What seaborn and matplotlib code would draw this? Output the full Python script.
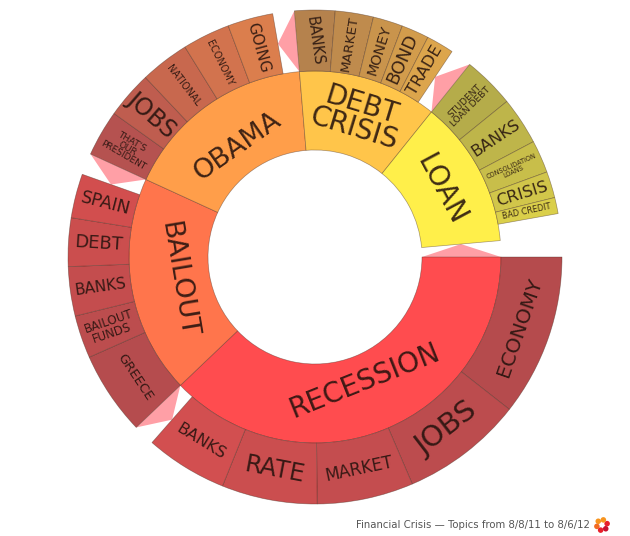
import numpy as np
import pandas as pd
import matplotlib
matplotlib.use('Agg')
import matplotlib.pyplot as plt
import seaborn as sns

groups = ['RECESSION', 'BAILOUT', 'OBAMA', 'DEBT\nCRISIS', 'LOAN']
group_colors = ['#FF4C4F', '#FF754C', '#FF9E4A', '#FFC54A', '#FFEF4A']

# topic shares in degrees of the circle
recession_topics = ['ECONOMY', 'JOBS', 'MARKET', 'RATE', 'BANKS']
recession_values = [38.1, 28.7, 22.7, 22.5, 19.3]
bailout_topics = ['GREECE', 'BAILOUT\nFUNDS', 'BANKS', 'DEBT', 'SPAIN']
bailout_values = [19.7, 10.1, 11.6, 11.4, 10.4]
obama_topics = ["THAT'S\nOUR\nPRESIDENT", 'JOBS', 'NATIONAL', 'ECONOMY', 'GOING']
obama_values = [10.9, 11.1, 11.6, 11.2, 10.7]
debt_topics = ['BANKS', 'MARKET', 'MONEY', 'BOND', 'TRADE']
debt_values = [9.5, 9.0, 7.0, 6.5, 6.5]
loan_topics = ['STUDENT\nLOAN DEBT', 'BANKS', 'CONSOLIDATION\nLOANS', 'CRISIS', 'BAD CREDIT']
loan_values = [12.2, 11.2, 7.7, 6.2, 3.8]

topics = [recession_topics, bailout_topics, obama_topics, debt_topics, loan_topics]
values = [recession_values, bailout_values, obama_values, debt_values, loan_values]

# styling
group_sizes = [20, 19.5, 19.5, 20, 20]
group_shift = [-13, -8, -11, 0, -3]
topic_sizes = [[14.5, 21, 12, 17.5, 11.5],
               [9.5, 8.5, 11, 13, 12.5],
               [6.5, 17, 7, 7, 11],
               [10.5, 9.7, 10.3, 12.8, 11.7],
               [6.6, 11.6, 4.7, 11.8, 5.9]]
topic_ramps = [('#B54B4D', '#D24F50'), ('#B54C4E', '#D24E4E'), ('#B55250', '#DB7E4D'),
               ('#B5824D', '#DCA54C'), ('#B5AC4A', '#DACF4A')]
logo_colors = ['#F7941E', '#F26A21', '#E8202A', '#C8102E', '#E8202A', '#F7941E']
pink = '#FF9FA6'
edge = (0.25, 0.15, 0.1, 0.45)
ink = (0.14, 0.07, 0.05, 0.88)
r0, r1, r2 = 107, 186, 247

sns.set_theme(style='white')
fig = plt.figure(figsize=(6.3, 5.36), dpi=100)
ax = fig.add_axes([65 / 630, 29 / 536, 500 / 630, 500 / 536], projection='polar')
ax.set_theta_zero_location('N')
ax.set_theta_direction(-1)
ax.set_rlim(0, 250)
ax.set_thetalim(0, 2 * np.pi)
ax.axis('off')

rows = []
for g, name in enumerate(groups):
    for t, v in zip(topics[g], values[g]):
        rows.append({'group': g, 'topic': t, 'value': v})
df = pd.DataFrame(rows)

gap = (360 - df['value'].sum()) / (len(groups) + 1)


def radial_rotation(deg):
    deg = deg % 360
    if 90 < deg < 240:
        return 180 - deg
    if deg < 90:
        return 90 - deg
    if deg > 355:
        return -82  # the top BANKS label leans a bit in the original
    return 270 - deg


def ring_rotation(deg):
    deg = deg % 360
    if 90 < deg < 270:
        return 180 - deg
    if deg < 90:
        return -deg
    return 360 - deg


start = 90.0
prev_end = None
for g, name in enumerate(groups):
    part = df[df['group'] == g]
    colors = sns.blend_palette(topic_ramps[g], len(part))
    span = part['value'].sum()

    # pink connector from the end of the previous sector
    if prev_end is not None:
        ax.fill(np.radians([start, start, prev_end]), [r1, r2, (r1 + r2) / 2], color=pink, lw=0, zorder=1)

    ax.bar(np.radians(start), r1 - r0, width=np.radians(span + gap), bottom=r0, align='edge',
           color=group_colors[g], edgecolor=edge, linewidth=0.5, zorder=2)
    mid = start + (span + gap) / 2
    ax.text(np.radians(mid), (r0 + r1) / 2 + group_shift[g], name, fontsize=group_sizes[g], color=ink,
            rotation=ring_rotation(mid), rotation_mode='anchor', ha='center', va='center',
            linespacing=0.85, zorder=4)

    a = start
    for i, (t, v) in enumerate(zip(part['topic'], part['value'])):
        ax.bar(np.radians(a), r2 - r1, width=np.radians(v), bottom=r1, align='edge',
               color=colors[i], edgecolor=edge, linewidth=0.5, zorder=3)
        m = a + v / 2
        ax.text(np.radians(m), (r1 + r2) / 2, t, fontsize=topic_sizes[g][i], color=ink,
                rotation=radial_rotation(m), rotation_mode='anchor', ha='center', va='center',
                linespacing=0.9, zorder=4)
        a += v
    prev_end = a
    start = start + span + gap

# closing connector on the inner ring, loan back round to recession
ax.fill(np.radians([90, 90, start]), [r0, r1, (r0 + r1) / 2], color=pink, lw=0, zorder=1)

fig.text(590 / 630, 1 - 525 / 536, 'Financial Crisis \u2014 Topics from 8/8/11 to 8/6/12', fontsize=7.3,
         color='#555555', ha='right', va='center')

# little ring logo next to the footer
logo = fig.add_axes([593 / 630, 1 - 534 / 536, 18 / 630, 18 / 536])
logo_angles = np.linspace(0, 2 * np.pi, len(logo_colors), endpoint=False) + np.pi * 0.75
logo_df = pd.DataFrame({'x': np.cos(logo_angles), 'y': np.sin(logo_angles), 'c': range(len(logo_colors))})
sns.scatterplot(data=logo_df, x='x', y='y', hue='c', palette=logo_colors, s=16, linewidth=0, legend=False, ax=logo)
logo.set_xlim(-1.7, 1.7)
logo.set_ylim(-1.7, 1.7)
logo.axis('off')

fig.savefig('out.png', dpi=100)
